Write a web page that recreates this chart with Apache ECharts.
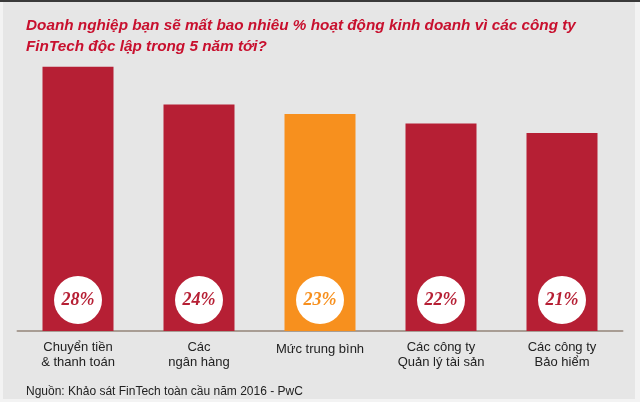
<!DOCTYPE html>
<html>
<head>
<meta charset="utf-8">
<script src="https://cdn.jsdelivr.net/npm/echarts@6/dist/echarts.min.js"></script>
<style>
html,body{margin:0;padding:0;background:#e6e6e6;}
#chart{width:640px;height:402px;}
</style>
</head>
<body>
<div id="chart"></div>
<script>
const titleText = 'Doanh nghiệp bạn sẽ mất bao nhiêu % hoạt động kinh doanh vì các công ty\nFinTech độc lập trong 5 năm tới?';
const sourceText = 'Nguồn: Khảo sát FinTech toàn cầu năm 2016 - PwC';
const categories = ['Chuyển tiền\n& thanh toán', 'Các\nngân hàng', 'Mức trung bình', 'Các công ty\nQuản lý tài sản', 'Các công ty\nBảo hiểm'];
const values = [28, 24, 23, 22, 21];
const highlight = [false, false, true, false, false];

const RED = '#b61f34';
const ORANGE = '#f7901e';

const chart = echarts.init(document.getElementById('chart'));
chart.setOption({
  backgroundColor: '#e6e6e6',
  animation: false,
  title: [
    {
      text: titleText,
      left: 26, top: 15, padding: 0,
      textStyle: {
        color: '#c8102e', fontFamily: 'Liberation Sans, Arial, sans-serif',
        fontSize: 15.3, fontWeight: 'bold', fontStyle: 'italic', lineHeight: 21
      }
    },
    {
      text: sourceText,
      left: 26, top: 385, padding: 0,
      textStyle: {
        color: '#222', fontFamily: 'Liberation Sans, Arial, sans-serif',
        fontSize: 12, fontWeight: 'normal', lineHeight: 14
      }
    }
  ],
  graphic: [
    { type: 'rect', shape: { x: 0, y: 0, width: 640, height: 2 }, style: { fill: '#3a3a3a' }, z: 100 },
    { type: 'rect', shape: { x: 0, y: 2, width: 3, height: 400 }, style: { fill: '#f3f3f3' }, z: 100 },
    { type: 'rect', shape: { x: 635, y: 2, width: 5, height: 400 }, style: { fill: '#f3f3f3' }, z: 100 },
    { type: 'rect', shape: { x: 0, y: 399, width: 640, height: 3 }, style: { fill: '#f3f3f3' }, z: 100 }
  ],
  grid: { left: 17.5, right: 17.5, top: 48, bottom: 71, containLabel: false },
  xAxis: {
    type: 'category',
    data: categories,
    axisLine: { show: true, lineStyle: { color: '#a89d94', width: 2 } },
    axisTick: { show: false },
    axisLabel: {
      interval: 0,
      margin: 9,
      color: '#222',
      fontFamily: 'Liberation Sans, Arial, sans-serif',
      fontSize: 13,
      lineHeight: 15,
      formatter: function (v) {
        return v.indexOf('\n') < 0 ? '{s|' + v + '}' : v;
      },
      rich: {
        s: { fontSize: 13, lineHeight: 15, color: '#222', padding: [3, 0, 0, 0],
             fontFamily: 'Liberation Sans, Arial, sans-serif' }
      }
    }
  },
  yAxis: {
    type: 'value', min: 0, max: 30, show: false,
    splitLine: { show: false }
  },
  series: [{
    type: 'bar',
    barWidth: 71,
    data: values.map(function (v, i) {
      const c = highlight[i] ? ORANGE : RED;
      return {
        value: v,
        itemStyle: { color: c },
        label: { color: c }
      };
    }),
    label: {
      show: true,
      position: 'insideBottom',
      distance: 7,
      formatter: '{c}%',
      width: 48,
      height: 48,
      lineHeight: 48,
      backgroundColor: '#ffffff',
      borderRadius: 24,
      fontFamily: 'Liberation Serif, Georgia, serif',
      fontStyle: 'italic',
      fontWeight: 'bold',
      fontSize: 18
    }
  }]
});
</script>
</body>
</html>
